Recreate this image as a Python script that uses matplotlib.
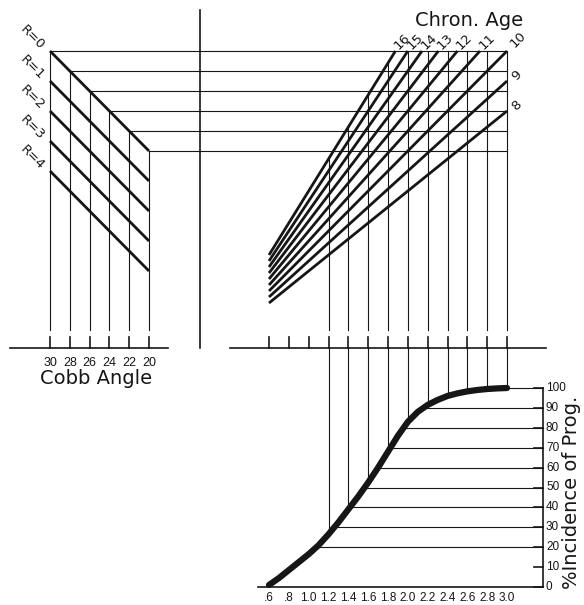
import numpy as np
import matplotlib
matplotlib.use('Agg')
import matplotlib.pyplot as plt
from matplotlib.transforms import Affine2D, blended_transform_factory
from matplotlib import font_manager

# ---------------- data ----------------
cobb_angles = [30, 28, 26, 24, 22, 20]
risser_grades = [0, 1, 2, 3, 4]
chron_ages = [8, 9, 10, 11, 12, 13, 14, 15, 16]
factor_ticks = [0.6, 0.8, 1.0, 1.2, 1.4, 1.6, 1.8, 2.0, 2.2, 2.4, 2.6, 2.8, 3.0]
factor_labels = ['.6', '.8', '1.0', '1.2', '1.4', '1.6', '1.8', '2.0', '2.2',
                 '2.4', '2.6', '2.8', '3.0']
curve_factor = [0.6, 0.7, 0.8, 0.9, 1.0, 1.1, 1.2, 1.3, 1.4, 1.5, 1.6, 1.7, 1.8,
                1.9, 2.0, 2.1, 2.2, 2.3, 2.4, 2.5, 2.6, 2.7, 2.8, 2.9, 3.0]
curve_incidence = [1, 4.5, 8.5, 12.5, 16.5, 21, 26.5, 32.5, 39, 45.5, 52.5, 60, 68,
                   76, 83, 88, 91.5, 94, 96, 97.3, 98.3, 99, 99.5, 99.8, 100]
pct_ticks = [0, 10, 20, 30, 40, 50, 60, 70, 80, 90, 100]
pct_lines = [20, 30, 40, 50, 60, 70, 80, 90, 100]

# ---------------- layout ----------------
W, H = 584, 605
fig = plt.figure(figsize=(W / 100, H / 100), dpi=100)
fig.patch.set_facecolor('white')
plt.rcParams['font.family'] = ['DejaVu Sans']

installed = {f.name for f in font_manager.fontManager.ttflist}
NUM_FONT = 'Liberation Sans Narrow' if 'Liberation Sans Narrow' in installed else 'Liberation Sans'

def lim(v0, p0, v1, p1, size):
    s = (v1 - v0) / (p1 - p0)
    return (v0 - p0 * s, v0 + (size - p0) * s)

def make_ax(xl, yl):
    ax = fig.add_axes([0, 0, 1, 1])
    ax.set_xlim(*xl)
    ax.set_ylim(*yl)
    ax.axis('off')
    ax.patch.set_alpha(0)
    return ax

cx = lim(30, 50, 20, 149, W)
qy = lim(30, 51, 20, 151, H)
fx = lim(0.6, 269, 3.0, 507, W)
py = lim(0, 587, 100, 388, H)

axL = make_ax(cx, (qy[1], qy[0]))
axM = make_ax(fx, (qy[1], qy[0]))
axB = make_ax(fx, (py[1], py[0]))

T_px = Affine2D().scale(1 / W, -1 / H).translate(0, 1) + fig.transFigure

def px_y(ax, ypx):
    return ax.transData.inverted().transform(T_px.transform((0, ypx)))[1]

def px_x(ax, xpx):
    return ax.transData.inverted().transform(T_px.transform((xpx, 0)))[0]

INK = '#161616'
THIN = 0.8
THICK = 2.0
AX_LW = 1.2

# ---------------- left panel (Cobb / Risser) ----------------
blendL = blended_transform_factory(axL.transData, T_px)
for R in risser_grades:
    axL.plot([cobb_angles[0], cobb_angles[-1]],
             [cobb_angles[0] - 3 * R, cobb_angles[-1] - 3 * R],
             color=INK, lw=THICK, solid_capstyle='butt')
    axL.annotate(f'R={R}', xy=(cobb_angles[0], cobb_angles[0] - 3 * R),
                 xytext=(-18, 13), textcoords='offset pixels', rotation=-45,
                 ha='center', va='center', fontsize=9.5, color=INK)

yL_bot = px_y(axL, 330)
x_end_L = axL.transData.inverted().transform(axM.transData.transform((factor_ticks[-1], 0)))[0]
for C in cobb_angles:
    axL.plot([C, C], [C, yL_bot], color=INK, lw=THIN)
    axL.plot([C, x_end_L], [C, C], color=INK, lw=THIN)
    axL.plot([C, C], [337, 348], color=INK, lw=AX_LW, transform=blendL)
    axL.text(C, 363, str(C), transform=blendL, ha='center', va='center',
             fontsize=9, color=INK, family=NUM_FONT)
axL.plot([10, 168], [348, 348], color=INK, lw=AX_LW, transform=T_px)
axL.text(np.mean(cobb_angles) + 0.3, 379, 'Cobb Angle', transform=blendL,
         ha='center', va='center', fontsize=14, color=INK)

# separator
axL.plot([200, 200], [10, 348], color=INK, lw=AX_LW, transform=T_px)

# ---------------- middle panel (Chron. Age) ----------------
blendM = blended_transform_factory(axM.transData, T_px)
q_top = cobb_angles[0]
f_max = factor_ticks[-1]
for a in chron_ages:
    f_end = min(f_max, q_top / a)
    axM.plot([factor_ticks[0], f_end], [a * factor_ticks[0], a * f_end],
             color=INK, lw=THICK, solid_capstyle='butt')
    if q_top / a <= f_max:
        off = (11, 11) if a == 10 else (7, 9)
        axM.annotate(str(a), xy=(f_end, q_top), xytext=off,
                     textcoords='offset pixels', rotation=45, ha='center',
                     va='center', fontsize=9.5, color=INK)
    else:
        axM.annotate(str(a), xy=(f_end, a * f_end), xytext=(10, 5),
                     textcoords='offset pixels', rotation=45, ha='center',
                     va='center', fontsize=9.5, color=INK)

yM_bot = px_y(axM, 330)
for f in factor_ticks:
    if f >= 1.2:
        top = min(q_top, max(chron_ages) * f)
        axM.plot([f, f], [top, yM_bot], color=INK, lw=THIN)
    axM.plot([f, f], [337, 348], color=INK, lw=AX_LW, transform=blendM)
axM.plot([230, 546], [348, 348], color=INK, lw=AX_LW, transform=T_px)
axM.text(469, 21, 'Chron. Age', transform=T_px, ha='center', va='center',
         fontsize=14, color=INK)

# ---------------- bottom panel (% incidence) ----------------
blendB = blended_transform_factory(axB.transData, T_px)
blendBy = blended_transform_factory(T_px, axB.transData)
f_axis = px_x(axB, 543)
y_axis_B = px_y(axB, 348)

for f in factor_ticks:
    if f >= 1.2:
        p_at = np.interp(f, curve_factor, curve_incidence)
        axB.plot([f, f], [p_at, y_axis_B], color=INK, lw=THIN)
for p in pct_lines:
    f_at = np.interp(p, curve_incidence, curve_factor)
    axB.plot([f_at, f_axis], [p, p], color=INK, lw=THIN)

axB.plot(curve_factor, curve_incidence, color=INK, lw=4.5,
         solid_capstyle='round', solid_joinstyle='round')

axB.plot([f_axis, f_axis], [pct_ticks[0], pct_ticks[-1]], color=INK, lw=AX_LW)
axB.plot([px_x(axB, 258), f_axis], [0, 0], color=INK, lw=AX_LW)
for p in pct_ticks:
    axB.plot([534, 543], [p, p], color=INK, lw=AX_LW, transform=blendBy)
    axB.text(546, p, str(p), transform=blendBy, ha='left', va='center',
             fontsize=8.5, color=INK, family=NUM_FONT)
for f, lab in zip(factor_ticks, factor_labels):
    axB.text(f, 598, lab, transform=blendB, ha='center', va='center',
             fontsize=8.5, color=INK, family=NUM_FONT)
axB.text(562, 492, '%Incidence of Prog.', transform=T_px, rotation=90,
         ha='left', va='center', fontsize=14, color=INK)

fig.savefig('out.png', dpi=100, facecolor='white')
